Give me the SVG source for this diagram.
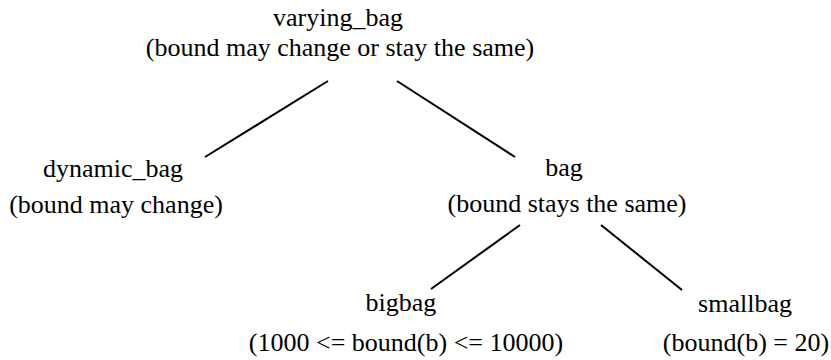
<svg xmlns="http://www.w3.org/2000/svg" width="831" height="360" viewBox="0 0 831 360">
<style>
text{font-family:"Liberation Serif","Times New Roman",serif;font-size:26px;fill:#000;text-anchor:middle}
.edge{stroke:#000;stroke-width:2;fill:none}
</style>
<rect width="831" height="360" fill="#fff"/>
<g id="connectors">
<line class="edge" x1="328" y1="81" x2="205" y2="157"/>
<line class="edge" x1="397" y1="81" x2="515" y2="157"/>
<line class="edge" x1="520" y1="225" x2="431" y2="289"/>
<line class="edge" x1="601" y1="225" x2="682" y2="290"/>
</g>
<g id="varying_bag"><text x="338" y="26">varying_bag</text><text x="340" y="56">(bound may change or stay the same)</text></g>
<g id="dynamic_bag"><text x="113" y="177">dynamic_bag</text><text x="116" y="213">(bound may change)</text></g>
<g id="bag"><text x="564" y="176">bag</text><text x="567" y="212">(bound stays the same)</text></g>
<g id="bigbag"><text x="401" y="311">bigbag</text><text x="406" y="351">(1000 &lt;= bound(b) &lt;= 10000)</text></g>
<g id="smallbag"><text x="745" y="312">smallbag</text><text x="746" y="351">(bound(b) = 20)</text></g>
</svg>
